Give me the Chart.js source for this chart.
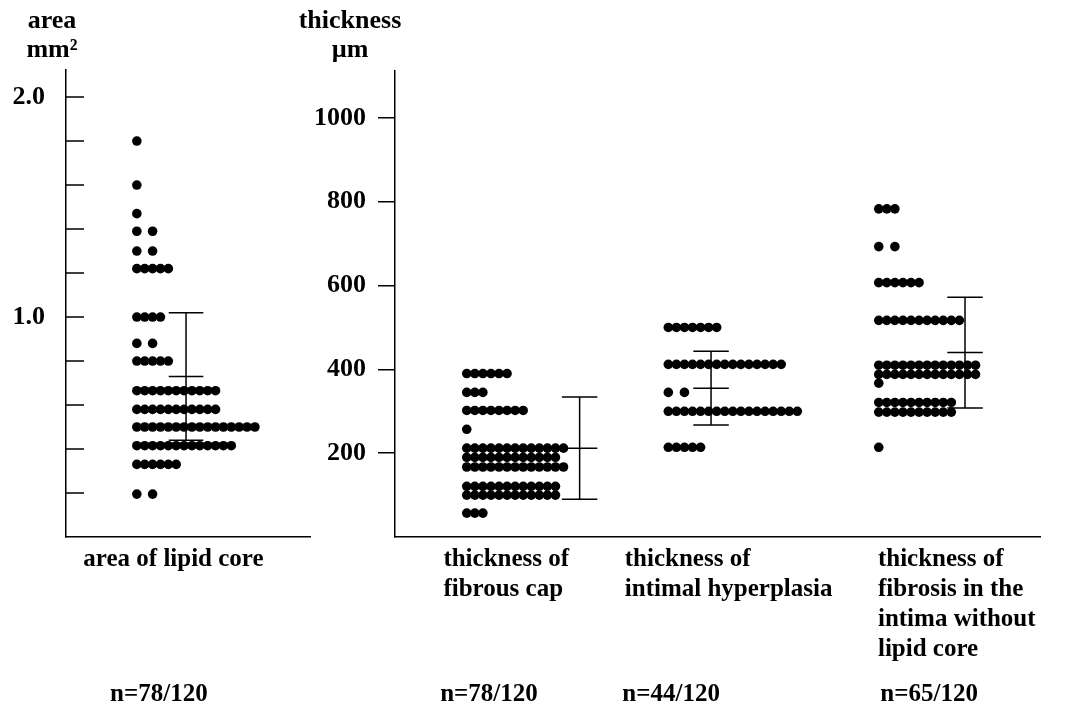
<!DOCTYPE html>
<html>
<head>
<meta charset="utf-8">
<script src="https://cdn.jsdelivr.net/npm/chart.js@4.4.1/dist/chart.umd.min.js"></script>
<style>
    body { margin: 0; background: #fff; width: 1067px; height: 706px; overflow: hidden; position: relative; }
    .panel { position: absolute; top: 0; height: 706px; }
    #areaPanel { left: 0; width: 320px; }
    #thickPanel { left: 280px; width: 787px; }
</style>
</head>
<body>
<div class="panel" id="areaPanel"><canvas id="areaChart"></canvas></div>
<div class="panel" id="thickPanel"><canvas id="thickChart"></canvas></div>
<script>
// Values: one entry per row of dots
const areaValues = [1.8, 1.6, 1.47, 1.39, 1.3, 1.22, 1.0, 0.88, 0.8, 0.665, 0.58, 0.5, 0.415, 0.33, 0.195];
const areaCounts = [1, 1, 1, 2, 2, 5, 4, 2, 5, 11, 11, 16, 13, 6, 2];
const areaMean = [0.73];
const areaSd = [0.29];

const capValues = [390, 345, 302, 257, 212, 190, 167, 121, 100, 57];
const capCounts = [6, 3, 8, 1, 13, 12, 13, 12, 12, 3];
const intimaValues = [500, 412, 345, 300, 214];
const intimaCounts = [7, 15, 2, 17, 5];
const fibrosisValues = [783, 693, 607, 517, 410, 388, 367, 321, 298, 214];
const fibrosisCounts = [3, 2, 6, 11, 13, 13, 1, 10, 10, 1];
const thickMeans = [212, 355, 440];
const thickSds = [122, 88, 132];

// Axis ticks and labels
const areaTicks = [0.2, 0.4, 0.6, 0.8, 1.0, 1.2, 1.4, 1.6, 1.8, 2.0];
const areaTickLabels = ['', '', '', '', '1.0', '', '', '', '', '2.0'];
const thickTicks = [200, 400, 600, 800, 1000];
const thickTickLabels = ['200', '400', '600', '800', '1000'];

const areaCategories = [['area of lipid core']];
const thickCategories = [
    ['thickness of', 'fibrous cap'],
    ['thickness of', 'intimal hyperplasia'],
    ['thickness of', 'fibrosis in the', 'intima without', 'lipid core']
];
const areaN = ['n=78/120'];
const thickN = ['n=78/120', 'n=44/120', 'n=65/120'];

// Layout along x, in dot-width units
const areaLayout = { xMax: 31, dotStart: [9.0], bar: [15.25], label: [2.2], nLabel: [5.6] };
const thickLayout = { xMax: 80, dotStart: [8.9, 33.9, 60.0], bar: [22.9, 39.2, 70.7], label: [6.0, 28.5, 59.9], nLabel: [5.6, 28.2, 60.2] };

const SERIF = "'Liberation Serif', 'Times New Roman', serif";

// Rows with exactly two dots are drawn with a gap between them in the figure
function dotRows(values, counts, start) {
    const pts = [];
    values.forEach((v, r) => {
        const step = counts[r] === 2 ? 2 : 1;
        for (let i = 0; i < counts[r]; i++) pts.push({ x: start + i * step, y: v });
    });
    return pts;
}

function dotDataset(points) {
    return {
        data: points,
        backgroundColor: '#000',
        borderWidth: 0,
        pointRadius: 4.8,
        pointHoverRadius: 4.8
    };
}

// Error bars, inward ticks, n labels and the corner unit labels
const figureExtras = {
    id: 'figureExtras',
    afterDraw(chart, args, opts) {
        const { ctx } = chart;
        const x = chart.scales.x, y = chart.scales.y;
        ctx.save();
        ctx.strokeStyle = '#000';
        ctx.lineWidth = 1.5;

        opts.bars.forEach(b => {
            const cx = x.getPixelForValue(b.x);
            const half = x.getPixelForValue(b.x + 2.2) - cx;
            const yt = y.getPixelForValue(b.mean + b.sd);
            const ym = y.getPixelForValue(b.mean);
            const yb = y.getPixelForValue(b.mean - b.sd);
            ctx.beginPath();
            ctx.moveTo(cx, yt);
            ctx.lineTo(cx, yb);
            [yt, ym, yb].forEach(py => {
                ctx.moveTo(cx - half, py);
                ctx.lineTo(cx + half, py);
            });
            ctx.stroke();
        });

        if (opts.innerTicks) {
            ctx.beginPath();
            y.ticks.forEach(t => {
                const py = y.getPixelForValue(t.value);
                ctx.moveTo(chart.chartArea.left, py);
                ctx.lineTo(chart.chartArea.left + opts.innerTicks, py);
            });
            ctx.stroke();
        }

        ctx.fillStyle = '#000';
        ctx.font = 'bold 25px ' + SERIF;
        ctx.textAlign = 'left';
        ctx.textBaseline = 'alphabetic';
        opts.counts.forEach(n => ctx.fillText(n.text, x.getPixelForValue(n.x), 701));

        ctx.font = 'bold 26px ' + SERIF;
        ctx.textAlign = 'center';
        opts.header.forEach((line, i) => ctx.fillText(line, opts.headerX, 28 + i * 29));
        ctx.restore();
    }
};

function buildChart(canvasId, cfg) {
    return new Chart(document.getElementById(canvasId), {
        type: 'scatter',
        data: { datasets: cfg.datasets },
        options: {
            responsive: true,
            maintainAspectRatio: false,
            animation: false,
            events: [],
            layout: { padding: cfg.padding },
            plugins: {
                legend: { display: false },
                tooltip: { enabled: false },
                figureExtras: cfg.extras
            },
            scales: {
                x: {
                    type: 'linear',
                    min: 0,
                    max: cfg.layout.xMax,
                    afterFit: s => { s.height = 169; },
                    afterBuildTicks: s => { s.ticks = cfg.layout.label.map(v => ({ value: v })); },
                    border: { color: '#000', width: 1.5 },
                    grid: { drawOnChartArea: false, drawTicks: false },
                    ticks: {
                        align: 'start',
                        autoSkip: false,
                        maxRotation: 0,
                        minRotation: 0,
                        padding: 8,
                        color: '#000',
                        font: { family: SERIF, size: 25, weight: 'bold', lineHeight: 1.2 },
                        callback: (v, i) => cfg.categories[i]
                    }
                },
                y: {
                    type: 'linear',
                    min: 0,
                    max: cfg.yMax,
                    afterFit: s => { s.width = cfg.yWidth; },
                    afterBuildTicks: s => { s.ticks = cfg.ticks.map(v => ({ value: v })); },
                    border: { color: '#000', width: 1.5 },
                    grid: {
                        drawOnChartArea: false,
                        drawTicks: cfg.outerTicks > 0,
                        tickLength: cfg.outerTicks,
                        color: '#000',
                        lineWidth: 1.5
                    },
                    ticks: {
                        padding: cfg.tickPadding,
                        color: '#000',
                        font: { family: SERIF, size: 26, weight: 'bold' },
                        callback: (v, i) => cfg.tickLabels[i]
                    }
                }
            }
        },
        plugins: [figureExtras]
    });
}

buildChart('areaChart', {
    datasets: [dotDataset(dotRows(areaValues, areaCounts, areaLayout.dotStart[0]))],
    padding: { top: 70, right: 10, left: 0, bottom: 0 },
    layout: areaLayout,
    categories: areaCategories,
    yMax: 2.123,
    yWidth: 66,
    ticks: areaTicks,
    tickLabels: areaTickLabels,
    outerTicks: 0,
    tickPadding: 21,
    extras: {
        bars: areaMean.map((m, i) => ({ x: areaLayout.bar[i], mean: m, sd: areaSd[i] })),
        innerTicks: 18,
        counts: areaN.map((t, i) => ({ text: t, x: areaLayout.nLabel[i] })),
        header: ['area', 'mm²'],
        headerX: 52
    }
});

buildChart('thickChart', {
    datasets: [
        dotDataset(dotRows(capValues, capCounts, thickLayout.dotStart[0])),
        dotDataset(dotRows(intimaValues, intimaCounts, thickLayout.dotStart[1])),
        dotDataset(dotRows(fibrosisValues, fibrosisCounts, thickLayout.dotStart[2]))
    ],
    padding: { top: 71, right: 27, left: 0, bottom: 0 },
    layout: thickLayout,
    categories: thickCategories,
    yMax: 1112,
    yWidth: 115,
    ticks: thickTicks,
    tickLabels: thickTickLabels,
    outerTicks: 17,
    tickPadding: 12,
    extras: {
        bars: thickMeans.map((m, i) => ({ x: thickLayout.bar[i], mean: m, sd: thickSds[i] })),
        innerTicks: 0,
        counts: thickN.map((t, i) => ({ text: t, x: thickLayout.nLabel[i] })),
        header: ['thickness', 'µm'],
        headerX: 70
    }
});
</script>
</body>
</html>
